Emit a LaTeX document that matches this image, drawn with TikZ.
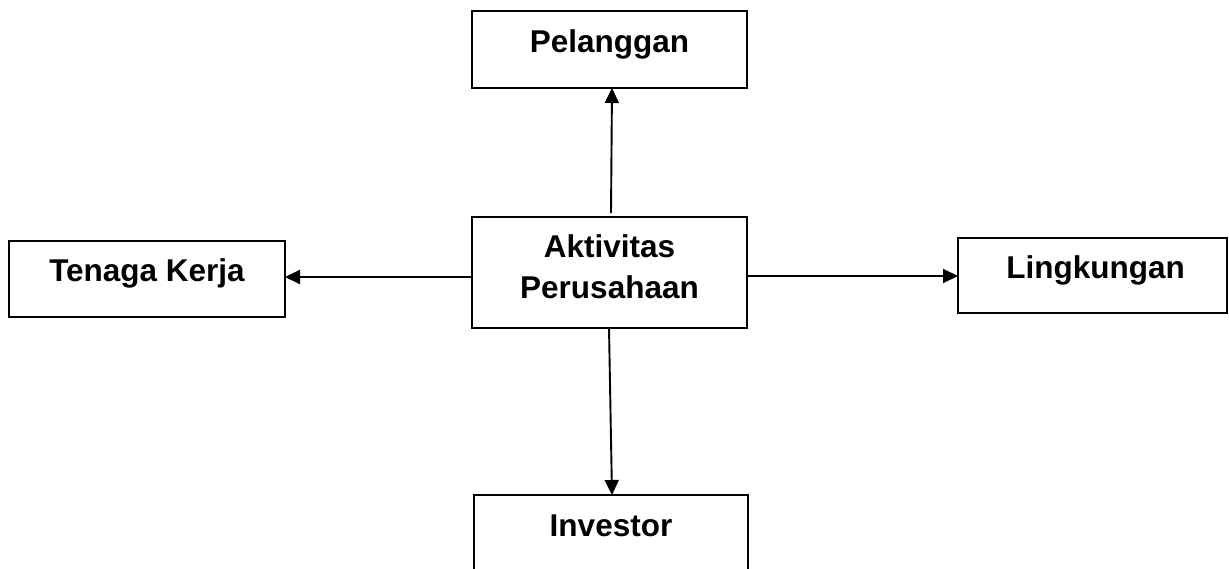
\documentclass[tikz,border=0pt]{standalone}
\usepackage{fontspec}
\setmainfont{Liberation Sans}
\usetikzlibrary{arrows.meta}
\tikzset{
  box/.style={draw=black, line width=2pt, fill=white, rectangle, inner sep=0pt, outer sep=0pt,
    font=\fontsize{31.5}{41}\selectfont\bfseries, align=center, text height=22pt, text depth=17pt},
  conn/.style={line width=1.9pt, -{Triangle[length=15pt,width=14pt]}}
}
\begin{document}
\begin{tikzpicture}[x=1pt,y=-1pt]
\useasboundingbox[fill=white] (0,0) rectangle (1229,568);
\node[box, minimum width=275pt, minimum height=77pt] (pel) at (609.5,49.5) {Pelanggan};
\node[box, minimum width=275pt, minimum height=111pt, text height=60pt, text depth=9pt] (akt) at (609.5,272.5) {Aktivitas\\Perusahaan};
\node[box, minimum width=276pt, minimum height=76pt] (ten) at (147,279) {Tenaga Kerja};
\node[box, minimum width=269pt, minimum height=75pt] (lin) at (1092.5,275.5) {\hspace*{6pt}Lingkungan};
\node[box, minimum width=274pt, minimum height=77pt] (inv) at (611,533.5) {Investor};
\draw[conn] ([xshift=1.5pt,yshift=4pt]akt.north) -- ([xshift=2.5pt]pel.south);
\draw[conn] ([xshift=-0.5pt]akt.south) -- ([xshift=1pt]inv.north);
\draw[conn] ([yshift=-4.5pt]akt.west) -- ([yshift=2pt]ten.east);
\draw[conn] ([yshift=-3.5pt]akt.east) -- ([yshift=-0.5pt]lin.west);
\end{tikzpicture}
\end{document}
